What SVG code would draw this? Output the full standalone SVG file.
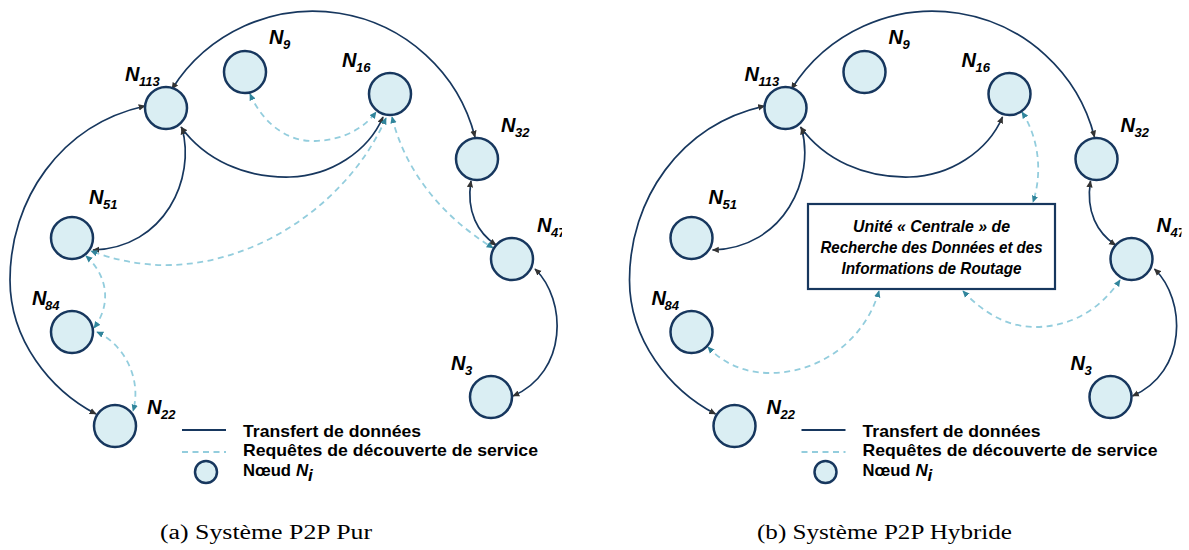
<svg xmlns="http://www.w3.org/2000/svg" width="1189" height="550" viewBox="0 0 1189 550">
<style>
.node{fill:#DAEEF3;stroke:#17375E;stroke-width:2.5}
.sol{fill:none;stroke:#17375E;stroke-width:1.7;marker-start:url(#ah);marker-end:url(#ah)}
.dsh{fill:none;stroke:#93CDDD;stroke-width:1.8;stroke-dasharray:6 4.5;marker-start:url(#ad);marker-end:url(#ad)}
.lbl{font-family:"Liberation Sans",Arial,sans-serif;font-weight:bold;font-style:italic;fill:#000}
.nm{font-size:20px}
.sb{font-size:13px}
.leg{font-family:"Liberation Sans",Arial,sans-serif;font-weight:bold;font-size:17px;fill:#000}
.cap{font-family:"Liberation Serif","Times New Roman",serif;font-size:20px;fill:#000}
.box{fill:#fff;stroke:#17375E;stroke-width:2.2}
.bt{font-family:"Liberation Sans",Arial,sans-serif;font-weight:bold;font-style:italic;font-size:16.5px;fill:#000;text-anchor:middle}
</style>
<defs>
<marker id="ah" viewBox="0 0 10 10" refX="9" refY="5" markerWidth="7" markerHeight="7" markerUnits="userSpaceOnUse" orient="auto-start-reverse"><path d="M0,0.5 L10,5 L0,9.5 z" fill="#333"/></marker>
<marker id="ad" viewBox="0 0 10 10" refX="9" refY="5" markerWidth="7" markerHeight="7" markerUnits="userSpaceOnUse" orient="auto-start-reverse"><path d="M0,0.5 L10,5 L0,9.5 z" fill="#31859C"/></marker>
<clipPath id="pc"><rect x="0" y="0" width="562" height="550"/></clipPath>
</defs>

<!-- Panel (a) -->
<g id="panel-a" clip-path="url(#pc)">
<g id="a-connectors">
<path class="sol" d="M172,89 A167,167 0 0 1 475,137"/>
<path class="sol" d="M182,128 C196,178 165,248 93,250"/>
<path class="sol" d="M181,127 C205,160 245,178 290,177 C330,176 368,152 383,117"/>
<path class="sol" d="M471,181 C466,212 478,233 496,245"/>
<path class="sol" d="M535,269 C567,300 568,372 513,396"/>
<path class="sol" d="M145,106 C60,125 10,200 10,280 C10,340 50,390 96,414"/>
<path class="dsh" d="M250,94 C265,128 292,142 315,141 C345,140 365,127 376,112"/>
<path class="dsh" d="M386,118 C350,200 262,262 172,265 C140,266 112,259 91,251"/>
<path class="dsh" d="M392,117 C405,170 440,215 493,248"/>
<path class="dsh" d="M86,256 C106,274 113,302 94,328"/>
<path class="dsh" d="M97,332 C125,345 142,380 133,411"/>
</g>
<g id="a-n113"><circle class="node" cx="166" cy="108" r="21"/><text class="lbl nm" x="125" y="81">N</text><text class="lbl sb" x="139" y="86">113</text></g>
<g id="a-n9"><circle class="node" cx="245" cy="72" r="21"/><text class="lbl nm" x="269" y="44">N</text><text class="lbl sb" x="283" y="49">9</text></g>
<g id="a-n16"><circle class="node" cx="390" cy="94" r="21"/><text class="lbl nm" x="342" y="67">N</text><text class="lbl sb" x="356" y="72">16</text></g>
<g id="a-n32"><circle class="node" cx="477" cy="159" r="21"/><text class="lbl nm" x="501" y="132">N</text><text class="lbl sb" x="515" y="137">32</text></g>
<g id="a-n47"><circle class="node" cx="512" cy="259" r="21"/><text class="lbl nm" x="537" y="232">N</text><text class="lbl sb" x="551" y="237">47</text></g>
<g id="a-n51"><circle class="node" cx="72" cy="238" r="21"/><text class="lbl nm" x="89" y="204">N</text><text class="lbl sb" x="103" y="209">51</text></g>
<g id="a-n84"><circle class="node" cx="72" cy="332" r="21"/><text class="lbl nm" x="32" y="305">N</text><text class="lbl sb" x="45" y="310">84</text></g>
<g id="a-n22"><circle class="node" cx="115" cy="426" r="21"/><text class="lbl nm" x="147" y="414">N</text><text class="lbl sb" x="161" y="419">22</text></g>
<g id="a-n3"><circle class="node" cx="491" cy="397" r="21"/><text class="lbl nm" x="451" y="370">N</text><text class="lbl sb" x="465" y="375">3</text></g>
<g id="a-legend">
<line x1="182" y1="430" x2="226" y2="430" stroke="#17375E" stroke-width="2"/>
<line x1="182" y1="452" x2="226" y2="452" stroke="#93CDDD" stroke-width="2" stroke-dasharray="6 4.5"/>
<circle class="node" cx="206" cy="472" r="11" stroke-width="2"/>
<text class="leg" x="243" y="437" textLength="178" lengthAdjust="spacingAndGlyphs">Transfert de données</text>
<text class="leg" x="243" y="456" textLength="295" lengthAdjust="spacingAndGlyphs">Requêtes de découverte de service</text>
<text class="leg" x="243" y="476" textLength="48" lengthAdjust="spacingAndGlyphs">Nœud</text>
<text class="leg" x="296" y="476" font-style="italic">N</text>
<text class="leg" x="308" y="481" font-style="italic" font-size="12">i</text>
</g>
</g>
<text class="cap" x="160" y="539" textLength="212" lengthAdjust="spacingAndGlyphs">(a) Système P2P Pur</text>

<!-- Panel (b) -->
<g id="panel-b" transform="translate(619.5,0)">
<g clip-path="url(#pc)">
<g id="b-connectors">
<path class="sol" d="M172,89 A167,167 0 0 1 475,137"/>
<path class="sol" d="M182,128 C196,178 165,248 93,250"/>
<path class="sol" d="M181,127 C205,160 245,178 290,177 C330,176 368,152 383,117"/>
<path class="sol" d="M471,181 C466,212 478,233 496,245"/>
<path class="sol" d="M535,269 C567,300 568,372 513,396"/>
<path class="sol" d="M145,106 C60,125 10,200 10,280 C10,340 50,390 96,414"/>
<path class="dsh" d="M402.5,112 C420.5,140 422.5,175 413.5,202"/>
<path class="dsh" d="M259.5,291 C245.5,340 200.5,373 150.5,373 C120.5,373 100.5,360 88.5,347"/>
<path class="dsh" d="M343.5,291 C365.5,315 390.5,327 415.5,327 C450.5,327 480.5,310 500.5,280"/>
</g>
<g id="b-n113"><circle class="node" cx="166" cy="108" r="21"/><text class="lbl nm" x="125" y="81">N</text><text class="lbl sb" x="139" y="86">113</text></g>
<g id="b-n9"><circle class="node" cx="245" cy="72" r="21"/><text class="lbl nm" x="269" y="44">N</text><text class="lbl sb" x="283" y="49">9</text></g>
<g id="b-n16"><circle class="node" cx="390" cy="94" r="21"/><text class="lbl nm" x="342" y="67">N</text><text class="lbl sb" x="356" y="72">16</text></g>
<g id="b-n32"><circle class="node" cx="477" cy="159" r="21"/><text class="lbl nm" x="501" y="132">N</text><text class="lbl sb" x="515" y="137">32</text></g>
<g id="b-n47"><circle class="node" cx="512" cy="259" r="21"/><text class="lbl nm" x="537" y="232">N</text><text class="lbl sb" x="551" y="237">47</text></g>
<g id="b-n51"><circle class="node" cx="72" cy="238" r="21"/><text class="lbl nm" x="89" y="204">N</text><text class="lbl sb" x="103" y="209">51</text></g>
<g id="b-n84"><circle class="node" cx="72" cy="332" r="21"/><text class="lbl nm" x="32" y="305">N</text><text class="lbl sb" x="45" y="310">84</text></g>
<g id="b-n22"><circle class="node" cx="115" cy="426" r="21"/><text class="lbl nm" x="147" y="414">N</text><text class="lbl sb" x="161" y="419">22</text></g>
<g id="b-n3"><circle class="node" cx="491" cy="397" r="21"/><text class="lbl nm" x="451" y="370">N</text><text class="lbl sb" x="465" y="375">3</text></g>
<g id="b-central">
<rect class="box" x="188.5" y="204" width="247" height="85"/>
<text class="bt" x="312" y="232" textLength="157" lengthAdjust="spacingAndGlyphs">Unité « Centrale » de</text>
<text class="bt" x="312" y="253" textLength="222" lengthAdjust="spacingAndGlyphs">Recherche des Données et des</text>
<text class="bt" x="312" y="274" textLength="180" lengthAdjust="spacingAndGlyphs">Informations de Routage</text>
</g>
<g id="b-legend">
<line x1="182" y1="430" x2="226" y2="430" stroke="#17375E" stroke-width="2"/>
<line x1="182" y1="452" x2="226" y2="452" stroke="#93CDDD" stroke-width="2" stroke-dasharray="6 4.5"/>
<circle class="node" cx="206" cy="472" r="11" stroke-width="2"/>
<text class="leg" x="243" y="437" textLength="178" lengthAdjust="spacingAndGlyphs">Transfert de données</text>
<text class="leg" x="243" y="456" textLength="295" lengthAdjust="spacingAndGlyphs">Requêtes de découverte de service</text>
<text class="leg" x="243" y="476" textLength="48" lengthAdjust="spacingAndGlyphs">Nœud</text>
<text class="leg" x="296" y="476" font-style="italic">N</text>
<text class="leg" x="308" y="481" font-style="italic" font-size="12">i</text>
</g>
</g>
</g>
<text class="cap" x="757" y="539" textLength="255" lengthAdjust="spacingAndGlyphs">(b) Système P2P Hybride</text>
</svg>
